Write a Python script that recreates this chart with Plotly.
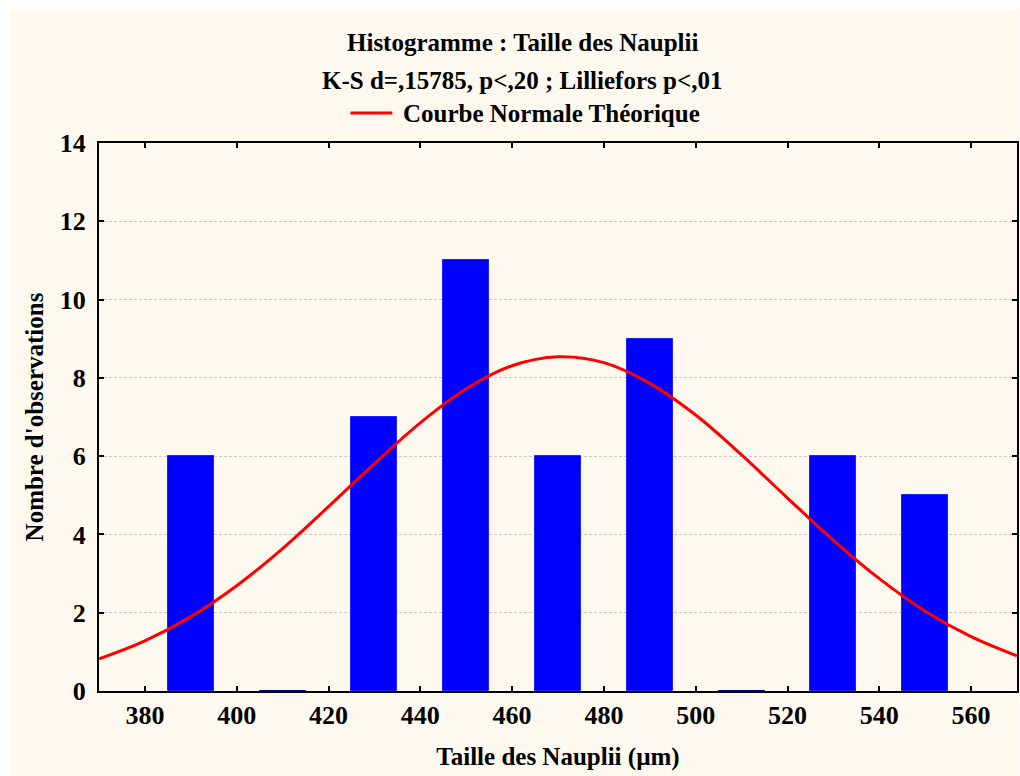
import plotly.graph_objects as go

# Histogram data
bin_centers = [390, 410, 430, 450, 470, 490, 510, 530, 550]
counts = [6, 0, 7, 11, 6, 9, 0, 6, 5]

# Theoretical normal curve
curve_x = [370, 380, 390, 400, 410, 420, 430, 440, 450, 460, 470,
           480, 490, 500, 510, 520, 530, 540, 550, 560, 570]
curve_y = [0.82, 1.28, 1.90, 2.69, 3.64, 4.71, 5.81, 6.85, 7.72, 8.31, 8.54,
           8.39, 7.86, 7.05, 6.03, 4.93, 3.85, 2.87, 2.04, 1.39, 0.90]

x_ticks = [380, 400, 420, 440, 460, 480, 500, 520, 540, 560]
y_ticks = [0, 2, 4, 6, 8, 10, 12, 14]

title1 = "Histogramme : Taille des Nauplii"
title2 = "K-S d=,15785, p<,20 ; Lilliefors p<,01"
legend_name = "Courbe Normale Théorique"
x_title = "Taille des Nauplii (µm)"
y_title = "Nombre d'observations"

FONT = "Liberation Serif"
L, R, T, B = 99, 1, 143, 85
W, H = 1020, 776
PW, PH = W - L - R, H - T - B

def px_to_paper_x(px):
    return (px - L) / PW

def px_to_paper_y(py):
    return (H - B - py) / PH

line_colors = ["#000080" if c == 0 else "#2020FF" for c in counts]

fig = go.Figure()
fig.add_trace(go.Bar(
    x=bin_centers, y=counts, width=10,
    marker=dict(color="#0000FF", line=dict(color=line_colors, width=1)),
    showlegend=False, hoverinfo="x+y",
))
fig.add_trace(go.Scatter(
    x=curve_x, y=curve_y, mode="lines",
    line=dict(color="#FF0000", width=3, shape="spline"),
    name=legend_name, showlegend=False,
))

# cream panel
fig.add_shape(type="rect", xref="paper", yref="paper",
              x0=px_to_paper_x(10), x1=px_to_paper_x(1021),
              y0=px_to_paper_y(777), y1=px_to_paper_y(10),
              fillcolor="#FDF9EF", line=dict(width=0), layer="below")

title_font = dict(family=FONT, size=25, color="black", weight="bold")
fig.add_annotation(text=title1, xref="paper", yref="paper",
                   x=px_to_paper_x(523), y=px_to_paper_y(43),
                   showarrow=False, xanchor="center", yanchor="middle",
                   font=title_font)
fig.add_annotation(text=title2.replace("<", "&lt;"), xref="paper", yref="paper",
                   x=px_to_paper_x(523), y=px_to_paper_y(80),
                   showarrow=False, xanchor="center", yanchor="middle",
                   font=title_font)

# legend entry for the normal curve
fig.add_shape(type="line", xref="paper", yref="paper",
              x0=px_to_paper_x(351), x1=px_to_paper_x(393),
              y0=px_to_paper_y(113), y1=px_to_paper_y(113),
              line=dict(color="#FF0000", width=3))
fig.add_annotation(text=legend_name, xref="paper", yref="paper",
                   x=px_to_paper_x(402), y=px_to_paper_y(113),
                   showarrow=False, xanchor="left", yanchor="middle",
                   font=title_font)

fig.update_layout(
    width=W, height=H,
    margin=dict(l=L, r=R, t=T, b=B, pad=0),
    paper_bgcolor="white", plot_bgcolor="white",
    bargap=0,
    showlegend=False,
    font=dict(family=FONT, color="black"),
)

tick_font = dict(family=FONT, size=26, color="black", weight="bold")
fig.update_xaxes(
    range=[370, 570], tickvals=x_ticks, ticktext=[str(v) for v in x_ticks],
    ticks="inside", ticklen=5, tickwidth=1.5, tickcolor="black",
    showline=True, linewidth=2, linecolor="black", mirror="ticks",
    showgrid=False, zeroline=False,
    tickfont=tick_font,
    ticklabelstandoff=0,
    title=dict(text=x_title, standoff=18, font=title_font),
)
fig.update_yaxes(
    range=[0, 14], tickvals=y_ticks, ticktext=[str(v) for v in y_ticks],
    ticks="inside", ticklen=5, tickwidth=1.5, tickcolor="black",
    showline=True, linewidth=2, linecolor="black", mirror="ticks",
    showgrid=True, gridcolor="#C8C8C8", gridwidth=1, griddash="3px,2px",
    zeroline=False,
    tickfont=tick_font,
    ticklabelstandoff=6,
    title=dict(text=y_title, standoff=9, font=title_font),
)

fig.write_html("out.html", config={"displayModeBar": False},
               post_script="document.body.style.margin='0';document.body.style.overflow='hidden';")
